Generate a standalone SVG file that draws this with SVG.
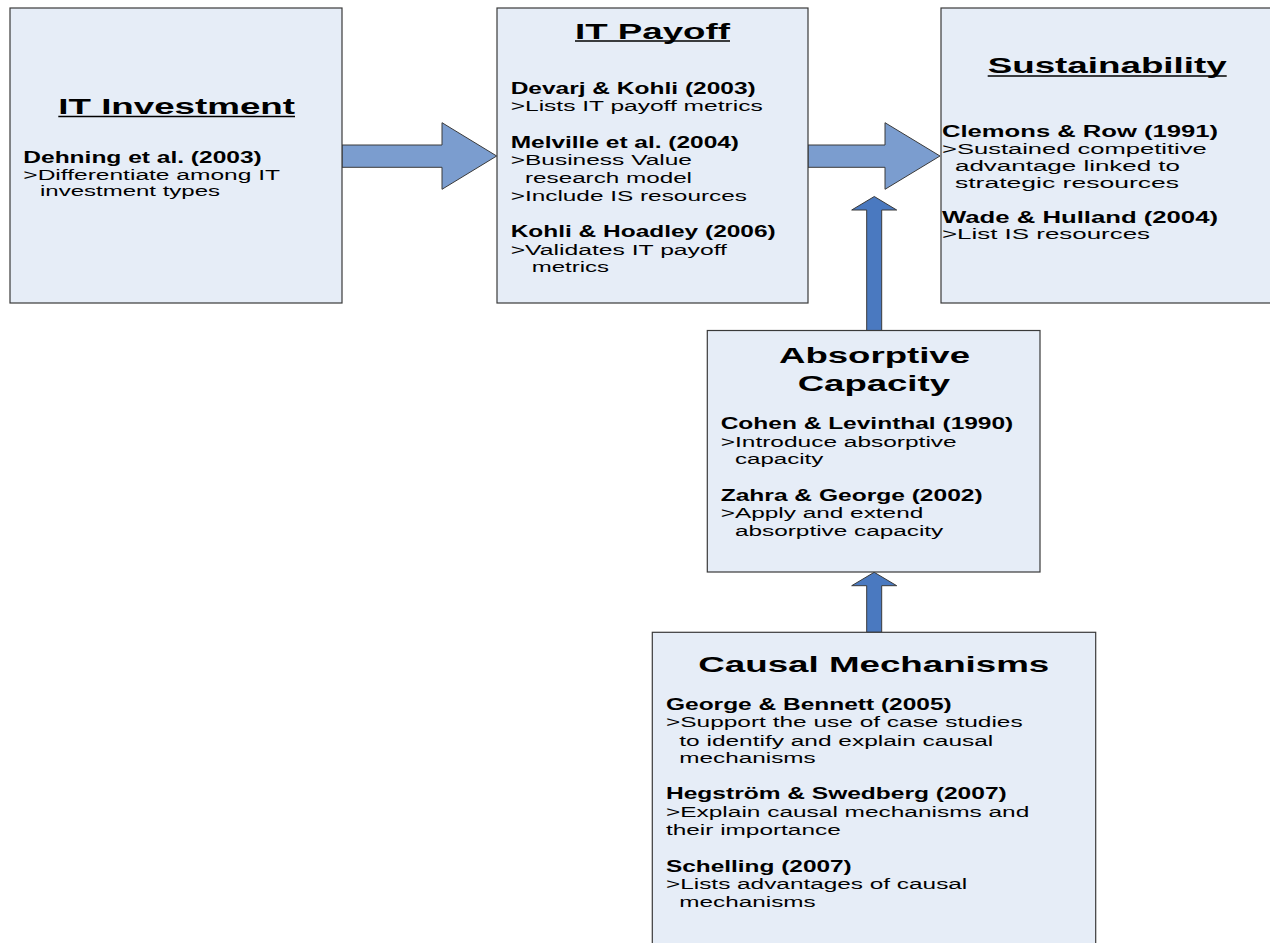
<svg xmlns="http://www.w3.org/2000/svg" width="1270" height="943" viewBox="0 0 1270 943">
<style>
.box{fill:#E6EDF7;stroke:#3a3a3a;stroke-width:1.2}
.ha{fill:#7B9DCF;stroke:#3a3a3a;stroke-width:1}
.va{fill:#4A79C0;stroke:#3a3a3a;stroke-width:1}
.t{font-family:"Liberation Sans",Arial,sans-serif;font-size:22px;font-weight:bold;fill:#000}
.b{font-family:"Liberation Sans",Arial,sans-serif;font-size:16px;font-weight:bold;fill:#000}
.r{font-family:"Liberation Sans",Arial,sans-serif;font-size:15.5px;fill:#000}
.ul{stroke:#000;stroke-width:1.6}
</style>
<rect width="1270" height="943" fill="#fff"/>
<g id="connectors">
<polygon class="ha" points="342,145 442,145 442,122.7 496.7,156 442,189.3 442,167.3 342,167.3"/>
<polygon class="ha" points="808,145 885,145 885,122.7 940,156 885,189.3 885,167.3 808,167.3"/>
<polygon class="va" points="866.7,330.5 866.7,210 851.7,210 874.3,196.5 896.7,210 881.7,210 881.7,330.5"/>
<polygon class="va" points="866.7,632.3 866.7,585.7 851.7,585.7 874.2,572.3 896.7,585.7 881.7,585.7 881.7,632.3"/>
</g>
<g id="it-investment">
<rect class="box" x="10" y="8" width="332" height="295"/>
<text class="t" x="58.3" y="114" textLength="236.7" lengthAdjust="spacingAndGlyphs">IT Investment</text>
<line class="ul" x1="58.3" y1="116.5" x2="295" y2="116.5"/>
<text class="b" x="23.3" y="162.5" textLength="238.4" lengthAdjust="spacingAndGlyphs">Dehning et al. (2003)</text>
<text class="r" x="23.3" y="180" textLength="256.7" lengthAdjust="spacingAndGlyphs">&gt;Differentiate among IT</text>
<text class="r" x="40" y="196" textLength="180" lengthAdjust="spacingAndGlyphs">investment types</text>
</g>
<g id="it-payoff">
<rect class="box" x="497" y="8" width="311" height="295"/>
<text class="t" x="575" y="38.5" textLength="155" lengthAdjust="spacingAndGlyphs">IT Payoff</text>
<line class="ul" x1="575" y1="41" x2="730" y2="41"/>
<text class="b" x="510.7" y="94.3" textLength="245" lengthAdjust="spacingAndGlyphs">Devarj &amp; Kohli (2003)</text>
<text class="r" x="510.7" y="111" textLength="252" lengthAdjust="spacingAndGlyphs">&gt;Lists IT payoff metrics</text>
<text class="b" x="510.7" y="147.7" textLength="228.3" lengthAdjust="spacingAndGlyphs">Melville et al. (2004)</text>
<text class="r" x="510.7" y="165.3" textLength="181.3" lengthAdjust="spacingAndGlyphs">&gt;Business Value</text>
<text class="r" x="525" y="182.7" textLength="167" lengthAdjust="spacingAndGlyphs">research model</text>
<text class="r" x="510.7" y="200.7" textLength="236.3" lengthAdjust="spacingAndGlyphs">&gt;Include IS resources</text>
<text class="b" x="510.7" y="237.3" textLength="265" lengthAdjust="spacingAndGlyphs">Kohli &amp; Hoadley (2006)</text>
<text class="r" x="510.7" y="255" textLength="216.3" lengthAdjust="spacingAndGlyphs">&gt;Validates IT payoff</text>
<text class="r" x="531.7" y="271.7" textLength="77.3" lengthAdjust="spacingAndGlyphs">metrics</text>
</g>
<g id="sustainability">
<rect class="box" x="941" y="8" width="340" height="295"/>
<text class="t" x="987.7" y="72.7" textLength="239" lengthAdjust="spacingAndGlyphs">Sustainability</text>
<line class="ul" x1="987.7" y1="76" x2="1226.7" y2="76"/>
<text class="b" x="942" y="137.3" textLength="276" lengthAdjust="spacingAndGlyphs">Clemons &amp; Row (1991)</text>
<text class="r" x="942" y="154" textLength="264.7" lengthAdjust="spacingAndGlyphs">&gt;Sustained competitive</text>
<text class="r" x="955" y="171" textLength="225" lengthAdjust="spacingAndGlyphs">advantage linked to</text>
<text class="r" x="955" y="188.3" textLength="224" lengthAdjust="spacingAndGlyphs">strategic resources</text>
<text class="b" x="942" y="222.7" textLength="276" lengthAdjust="spacingAndGlyphs">Wade &amp; Hulland (2004)</text>
<text class="r" x="942" y="239" textLength="208" lengthAdjust="spacingAndGlyphs">&gt;List IS resources</text>
</g>
<g id="absorptive-capacity">
<rect class="box" x="707.3" y="330.5" width="332.7" height="241.5"/>
<text class="t" x="779" y="363.3" textLength="191" lengthAdjust="spacingAndGlyphs">Absorptive</text>
<text class="t" x="797.7" y="390.7" textLength="152.3" lengthAdjust="spacingAndGlyphs">Capacity</text>
<text class="b" x="720.7" y="429.3" textLength="292.6" lengthAdjust="spacingAndGlyphs">Cohen &amp; Levinthal (1990)</text>
<text class="r" x="720.7" y="446.7" textLength="236" lengthAdjust="spacingAndGlyphs">&gt;Introduce absorptive</text>
<text class="r" x="735" y="464.3" textLength="88.3" lengthAdjust="spacingAndGlyphs">capacity</text>
<text class="b" x="720.7" y="501" textLength="262" lengthAdjust="spacingAndGlyphs">Zahra &amp; George (2002)</text>
<text class="r" x="720.7" y="518.3" textLength="202.6" lengthAdjust="spacingAndGlyphs">&gt;Apply and extend</text>
<text class="r" x="735" y="536" textLength="208.3" lengthAdjust="spacingAndGlyphs">absorptive capacity</text>
</g>
<g id="causal-mechanisms">
<rect class="box" x="652.3" y="632.3" width="443.4" height="330"/>
<text class="t" x="698.3" y="671.7" textLength="351" lengthAdjust="spacingAndGlyphs">Causal Mechanisms</text>
<text class="b" x="666" y="710" textLength="285.7" lengthAdjust="spacingAndGlyphs">George &amp; Bennett (2005)</text>
<text class="r" x="666" y="727.3" textLength="356.7" lengthAdjust="spacingAndGlyphs">&gt;Support the use of case studies</text>
<text class="r" x="679.3" y="745.7" textLength="314" lengthAdjust="spacingAndGlyphs">to identify and explain causal</text>
<text class="r" x="679.3" y="762.7" textLength="136.4" lengthAdjust="spacingAndGlyphs">mechanisms</text>
<text class="b" x="666" y="799.3" textLength="340.7" lengthAdjust="spacingAndGlyphs">Hegström &amp; Swedberg (2007)</text>
<text class="r" x="666" y="817.3" textLength="363.3" lengthAdjust="spacingAndGlyphs">&gt;Explain causal mechanisms and</text>
<text class="r" x="666" y="835" textLength="174.7" lengthAdjust="spacingAndGlyphs">their importance</text>
<text class="b" x="666" y="871.7" textLength="185.7" lengthAdjust="spacingAndGlyphs">Schelling (2007)</text>
<text class="r" x="666" y="889.3" textLength="301.3" lengthAdjust="spacingAndGlyphs">&gt;Lists advantages of causal</text>
<text class="r" x="679.3" y="906.7" textLength="136.4" lengthAdjust="spacingAndGlyphs">mechanisms</text>
</g>
</svg>
